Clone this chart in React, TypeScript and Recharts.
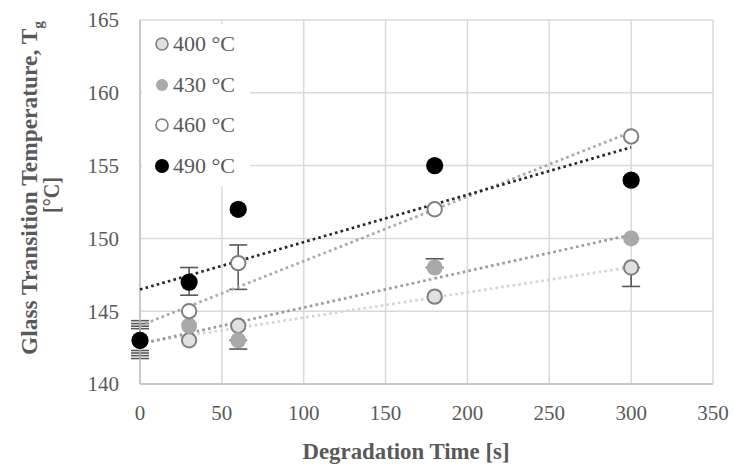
import React from 'react';
import { ComposedChart, Scatter, XAxis, YAxis, CartesianGrid, ErrorBar, Legend } from 'recharts';

const times = [0, 30, 60, 180, 300];
const tg400 = [143, 143, 144, 146, 148];
const tg430 = [143, 144, 143, 148, 150];
const tg460 = [143, 145, 148.3, 152, 157];
const tg490 = [143, 147, 152, 155, 154];
const err400 = [[1.25, 1.35], null, null, null, [1.3, 0]];
const err430 = [[1.05, 1.15], null, [0.6, 0], [0, 0.6], null];
const err460 = [[0.87, 0.97], null, [1.8, 1.25], null, null];
const err490 = [[0.7, 0.8], [0.9, 1.0], null, null, null];
const seriesNames = ['400 °C', '430 °C', '460 °C', '490 °C'];
const xTicks = [0, 50, 100, 150, 200, 250, 300, 350];
const yTicks = [140, 145, 150, 155, 160, 165];

const FONT = '"Liberation Serif", "Times New Roman", serif';
const TEXT = '#595959';

const build = (vals: number[], errs: (number[] | null)[]) =>
  times.map((t, i) => ({ x: t, y: vals[i], err: errs[i] }));

const series = [
  { name: seriesNames[0], data: build(tg400, err400), fill: '#e0e0e0', stroke: '#7f7f7f', sw: 2, r: 7.2, trend: '#d4d4d4', lr: 6, lsw: 1.6 },
  { name: seriesNames[1], data: build(tg430, err430), fill: '#a9a9a9', stroke: 'none', sw: 0, r: 8, trend: '#9a9a9a', lr: 6, lsw: 0 },
  { name: seriesNames[2], data: build(tg460, err460), fill: '#ffffff', stroke: '#7f7f7f', sw: 2, r: 7.2, trend: '#a8a8a8', lr: 6, lsw: 1.6 },
  { name: seriesNames[3], data: build(tg490, err490), fill: '#000000', stroke: 'none', sw: 0, r: 8.6, trend: '#262626', lr: 7, lsw: 0 },
];

const LegendBox = () => (
  <div style={{ background: '#fff', width: 108, height: 162, fontFamily: FONT, fontSize: 22, color: TEXT }}>
    {series.map((s) => (
      <div key={s.name} style={{ display: 'flex', alignItems: 'center', height: 40.5 }}>
        <svg width={31} height={20} style={{ display: 'block' }}>
          <circle cx={20} cy={10} r={s.lr} fill={s.fill} stroke={s.stroke} strokeWidth={s.lsw} />
        </svg>
        <span style={{ lineHeight: '40px', whiteSpace: 'nowrap' }}>{s.name}</span>
      </div>
    ))}
  </div>
);

const XTick = (p: any) => (
  <text x={p.x} y={p.y} dy="0.71em" textAnchor="middle" fontFamily={FONT} fontSize={21} fill={TEXT}>
    {p.payload.value}
  </text>
);

const YTick = (p: any) => (
  <text x={p.x} y={p.y} dy="0.355em" textAnchor="end" fontFamily={FONT} fontSize={21} fill={TEXT}>
    {p.payload.value}
  </text>
);

const YTitle = () => (
  <g>
    <text
      transform="translate(37,188) rotate(-90)"
      textAnchor="middle"
      fontFamily={FONT}
      fontWeight="bold"
      fontSize={23}
      fill={TEXT}
      textLength={334}
      lengthAdjust="spacingAndGlyphs"
    >
      Glass Transition Temperature, T
      <tspan fontSize={15} dy={6}>g</tspan>
    </text>
    <text
      transform="translate(59,195) rotate(-90)"
      textAnchor="middle"
      fontFamily={FONT}
      fontWeight="bold"
      fontSize={23}
      fill={TEXT}
      textLength={36}
      lengthAdjust="spacingAndGlyphs"
    >
      [°C]
    </text>
  </g>
);

const XTitle = () => (
  <text
    x={406}
    y={459}
    textAnchor="middle"
    fontFamily={FONT}
    fontWeight="bold"
    fontSize={22.5}
    fill={TEXT}
    textLength={207}
    lengthAdjust="spacingAndGlyphs"
  >
    Degradation Time [s]
  </text>
);

export default function App() {
  return (
    <div style={{ position: 'absolute', left: 0, top: 0, width: 734, height: 468, background: '#fff', fontFamily: FONT }}>
      <ComposedChart width={734} height={468} margin={{ top: 20, right: 21, bottom: 0, left: 0 }}>
        <CartesianGrid stroke="#d9d9d9" strokeWidth={1.5} />
        <XAxis
          type="number"
          dataKey="x"
          domain={[0, 350]}
          ticks={xTicks}
          interval={0}
          height={84}
          tickLine={false}
          tickSize={0}
          tickMargin={21}
          axisLine={{ stroke: '#bfbfbf', strokeWidth: 1.5 }}
          tick={<XTick />}
          label={{ content: () => <XTitle /> }}
        />
        <YAxis
          type="number"
          dataKey="y"
          domain={[140, 165]}
          ticks={yTicks}
          interval={0}
          width={140}
          tickLine={false}
          tickSize={0}
          tickMargin={21}
          axisLine={{ stroke: '#bfbfbf', strokeWidth: 1.5 }}
          tick={<YTick />}
          label={{ content: () => <YTitle /> }}
        />
        {series.map((s) => (
          <Scatter
            key={'trend-' + s.name}
            name={'trend-' + s.name}
            data={s.data}
            isAnimationActive={false}
            legendType="none"
            line={{ stroke: s.trend, strokeWidth: 2.7, strokeDasharray: '2.6 3.2' }}
            lineType="fitting"
            shape={() => <g />}
          />
        ))}
        {series.map((s) => (
          <Scatter
            key={s.name}
            name={s.name}
            data={s.data}
            isAnimationActive={false}
            shape={(p: any) => (
              <circle cx={p.cx} cy={p.cy} r={s.r} fill={s.fill} stroke={s.stroke} strokeWidth={s.sw} />
            )}
          >
            <ErrorBar dataKey="err" direction="y" width={9} stroke="#595959" strokeWidth={1.6} isAnimationActive={false} />
          </Scatter>
        ))}
        <Legend
          layout="horizontal"
          verticalAlign="middle"
          align="center"
          content={() => <LegendBox />}
          wrapperStyle={{ left: 142, top: 24, width: 108, height: 162 }}
        />
      </ComposedChart>
    </div>
  );
}
